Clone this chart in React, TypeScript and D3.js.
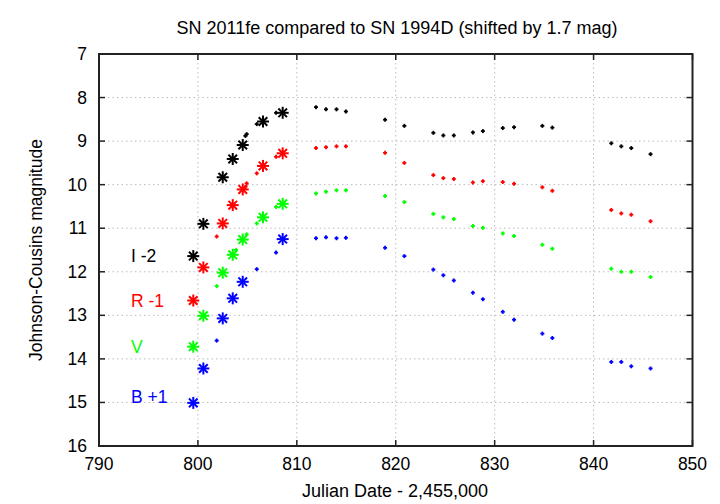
import React, { useEffect, useRef } from 'react';
import * as d3 from 'd3';

// SN 2011fe (asterisks) – Julian Date - 2,455,000
const feDays = [799.53, 800.55, 802.51, 803.52, 804.53, 806.58, 808.57];
const feI = [11.64, 10.9, 9.83, 9.41, 9.09, 8.55, 8.35];
const feR = [12.66, 11.9, 10.89, 10.47, 10.11, 9.57, 9.28];
const feV = [13.72, 13.01, 12.02, 11.61, 11.26, 10.75, 10.44];
const feBDays = [799.53, 800.55, 802.51, 803.52, 804.53, 808.57];
const feB = [15.01, 14.22, 13.07, 12.61, 12.23, 11.25];

// SN 1994D (small points, shifted)
const dDaysI = [804.8, 804.93, 805.95, 807.9, 811.94, 812.95, 814.01, 814.96, 818.92, 820.87, 823.8, 824.81, 825.87, 827.8, 828.81, 830.82, 831.96, 834.82, 835.83, 841.79, 842.8, 843.81, 845.76];
const dI = [8.88, 8.84, 8.61, 8.35, 8.22, 8.27, 8.27, 8.32, 8.51, 8.65, 8.81, 8.87, 8.87, 8.8, 8.77, 8.7, 8.68, 8.65, 8.69, 9.05, 9.12, 9.16, 9.3];
const dDaysR = [801.9, 804.8, 804.93, 805.95, 807.9, 811.94, 812.95, 814.01, 814.96, 818.92, 820.87, 823.8, 824.81, 825.87, 827.8, 828.81, 830.82, 831.96, 834.82, 835.83, 841.79, 842.8, 843.81, 845.76];
const dR = [11.19, 10.05, 9.97, 9.74, 9.36, 9.16, 9.14, 9.12, 9.12, 9.27, 9.5, 9.78, 9.85, 9.87, 9.95, 9.92, 9.94, 9.98, 10.06, 10.14, 10.58, 10.66, 10.69, 10.84];
const dDaysV = [801.9, 803.85, 804.93, 805.95, 807.9, 811.94, 812.95, 814.01, 814.96, 818.92, 820.87, 823.8, 824.81, 825.87, 827.8, 828.81, 830.82, 831.96, 834.82, 835.83, 841.79, 842.8, 843.81, 845.76];
const dV = [12.33, 11.5, 11.14, 10.89, 10.51, 10.2, 10.16, 10.13, 10.13, 10.26, 10.4, 10.67, 10.75, 10.79, 10.95, 10.99, 11.12, 11.18, 11.38, 11.47, 11.93, 12.0, 12.0, 12.12];
const dDaysB = [801.9, 805.95, 807.9, 811.94, 812.95, 814.01, 814.96, 818.92, 820.87, 823.8, 824.81, 825.87, 827.8, 828.81, 830.82, 831.96, 834.82, 835.83, 841.79, 842.8, 843.81, 845.76];
const dB = [13.58, 11.94, 11.56, 11.23, 11.21, 11.23, 11.22, 11.45, 11.64, 11.95, 12.08, 12.2, 12.48, 12.63, 12.92, 13.1, 13.42, 13.52, 14.07, 14.07, 14.17, 14.22];

const xTicks = [790, 800, 810, 820, 830, 840, 850];
const yTicks = [7, 8, 9, 10, 11, 12, 13, 14, 15, 16];

const bands = [
  { label: 'I -2', color: '#000000', feX: feDays, feY: feI, dX: dDaysI, dY: dI, labelY: 11.64 },
  { label: 'R -1', color: '#ff0000', feX: feDays, feY: feR, dX: dDaysR, dY: dR, labelY: 12.66 },
  { label: 'V', color: '#00ff00', feX: feDays, feY: feV, dX: dDaysV, dY: dV, labelY: 13.72 },
  { label: 'B +1', color: '#0000ff', feX: feBDays, feY: feB, dX: dDaysB, dY: dB, labelY: 14.88 },
];

const FONT = '"Liberation Sans", Arial, Helvetica, sans-serif';

const App: React.FC = () => {
  const svgRef = useRef<SVGSVGElement>(null);

  useEffect(() => {
    if (!svgRef.current) return;
    const width = 720;
    const height = 504;
    const left = 99, right = 692.5, top = 54, bottom = 446;
    const svg = d3.select(svgRef.current);
    svg.selectAll('*').remove();

    svg.append('rect').attr('width', width).attr('height', height).attr('fill', '#ffffff');

    const x = d3.scaleLinear().domain([790, 850]).range([left, right]);
    const y = d3.scaleLinear().domain([7, 16]).range([top, bottom]);

    // grid
    xTicks.slice(1, -1).forEach(t => {
      svg.append('line').attr('x1', x(t)).attr('x2', x(t)).attr('y1', top).attr('y2', bottom)
        .attr('stroke', '#bbbbbb').attr('stroke-width', 1).attr('stroke-dasharray', '1.5,3');
    });
    yTicks.slice(1, -1).forEach(t => {
      svg.append('line').attr('x1', left).attr('x2', right).attr('y1', y(t)).attr('y2', y(t))
        .attr('stroke', '#bbbbbb').attr('stroke-width', 1).attr('stroke-dasharray', '1.5,3');
    });

    // ticks (inward, mirrored)
    const tl = 6;
    xTicks.forEach(t => {
      svg.append('line').attr('x1', x(t)).attr('x2', x(t)).attr('y1', bottom).attr('y2', bottom - tl).attr('stroke', '#222').attr('stroke-width', 1.5);
      svg.append('line').attr('x1', x(t)).attr('x2', x(t)).attr('y1', top).attr('y2', top + tl).attr('stroke', '#222').attr('stroke-width', 1.5);
      svg.append('text').attr('x', x(t)).attr('y', bottom + 24).attr('text-anchor', 'middle')
        .attr('font-family', FONT).attr('font-size', 17.5).attr('fill', '#000').text(t);
    });
    yTicks.forEach(t => {
      svg.append('line').attr('x1', left).attr('x2', left + tl).attr('y1', y(t)).attr('y2', y(t)).attr('stroke', '#222').attr('stroke-width', 1.5);
      svg.append('line').attr('x1', right).attr('x2', right - tl).attr('y1', y(t)).attr('y2', y(t)).attr('stroke', '#222').attr('stroke-width', 1.5);
      svg.append('text').attr('x', 87).attr('y', y(t) + 6).attr('text-anchor', 'end')
        .attr('font-family', FONT).attr('font-size', 17.5).attr('fill', '#000').text(t);
    });

    // frame
    svg.append('rect').attr('x', left).attr('y', top).attr('width', right - left).attr('height', bottom - top)
      .attr('fill', 'none').attr('stroke', '#222').attr('stroke-width', 2);

    // SN 1994D small points
    bands.forEach(b => {
      const g = svg.append('g').attr('stroke', b.color).attr('stroke-width', 1.8);
      b.dX.forEach((d, i) => {
        const cx = x(d), cy = y(b.dY[i]);
        g.append('line').attr('x1', cx - 2).attr('x2', cx + 2).attr('y1', cy).attr('y2', cy);
        g.append('line').attr('x1', cx).attr('x2', cx).attr('y1', cy - 2).attr('y2', cy + 2);
      });
    });

    // SN 2011fe asterisks
    const a = 6, dg = 4.3;
    bands.forEach(b => {
      const g = svg.append('g').attr('stroke', b.color).attr('stroke-width', 2);
      b.feX.forEach((d, i) => {
        const cx = x(d), cy = y(b.feY[i]);
        g.append('line').attr('x1', cx - a).attr('x2', cx + a).attr('y1', cy).attr('y2', cy);
        g.append('line').attr('x1', cx).attr('x2', cx).attr('y1', cy - a).attr('y2', cy + a);
        g.append('line').attr('x1', cx - dg).attr('x2', cx + dg).attr('y1', cy - dg).attr('y2', cy + dg);
        g.append('line').attr('x1', cx - dg).attr('x2', cx + dg).attr('y1', cy + dg).attr('y2', cy - dg);
      });
      svg.append('text').attr('x', 131).attr('y', y(b.labelY) + 6)
        .attr('font-family', FONT).attr('font-size', 17.5).attr('fill', b.color).text(b.label);
    });

    // titles
    svg.append('text').attr('x', 397).attr('y', 34).attr('text-anchor', 'middle')
      .attr('font-family', FONT).attr('font-size', 18).attr('fill', '#000')
      .text('SN 2011fe compared to SN 1994D (shifted by 1.7 mag)');
    svg.append('text').attr('x', 395).attr('y', 497).attr('text-anchor', 'middle')
      .attr('font-family', FONT).attr('font-size', 18).attr('fill', '#000')
      .text('Julian Date - 2,455,000');
    svg.append('text').attr('transform', `translate(42,${(top + bottom) / 2}) rotate(-90)`)
      .attr('text-anchor', 'middle')
      .attr('font-family', FONT).attr('font-size', 17.5).attr('fill', '#000')
      .text('Johnson-Cousins magnitude');
  }, []);

  return (
    <svg ref={svgRef} width={720} height={504}
      style={{ position: 'absolute', left: 0, top: 0, display: 'block' }} />
  );
};

export default App;
